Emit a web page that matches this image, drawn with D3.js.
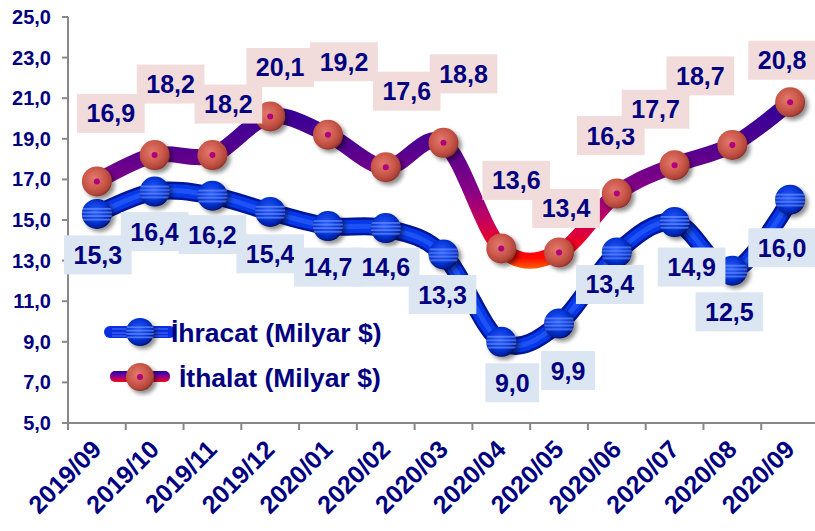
<!DOCTYPE html>
<html>
<head>
<meta charset="utf-8">
<script src="https://cdn.jsdelivr.net/npm/d3@7"></script>
<style>
  body { margin: 0; background: #fff; }
  svg { display: block; font-family: "Liberation Sans", Arial, sans-serif; font-weight: bold; }
</style>
</head>
<body>
<svg id="chart" width="815" height="531"></svg>
<script>
// months on the x axis
const months = ["2019/09", "2019/10", "2019/11", "2019/12", "2020/01", "2020/02", "2020/03",
                "2020/04", "2020/05", "2020/06", "2020/07", "2020/08", "2020/09"];
// İhracat (export), billion $
const ihracat = [15.3, 16.4, 16.2, 15.4, 14.7, 14.6, 13.3, 9.0, 9.9, 13.4, 14.9, 12.5, 16.0];
// İthalat (import), billion $
const ithalat = [16.9, 18.2, 18.2, 20.1, 19.2, 17.6, 18.8, 13.6, 13.4, 16.3, 17.7, 18.7, 20.8];
const yTicks = [5, 7, 9, 11, 13, 15, 17, 19, 21, 23, 25];
const seriesNames = ["İhracat (Milyar $)", "İthalat (Milyar $)"];

// label nudges in px from each marker (hand placed like the original)
const ihracatLabelShift = [[1,41],[0,40],[0,39],[0,42],[0,41],[0,39],[-1,40],[11,41],[9,47],[-7,32],[17,45],[-3,41],[-8,48]];
const ithalatLabelShift = [[14,-68],[16,-71],[16,-51],[10,-49],[16,-73],[21,-76],[20,-69],[15,-68],[7,-44],[-6,-58],[-19,-56],[-32,-69],[-8,-42]];

const navy = "#000080";
const fmt = v => d3.format(".1f")(v).replace(".", ",");

const svg = d3.select("#chart");
const plotLeft = 68, plotRight = 819, plotTop = 17, plotBottom = 423;

const x = d3.scalePoint().domain(months).range([plotLeft, plotRight]).padding(0.5);
const step = x.step();
const y = d3.scaleLinear().domain([5, 25]).range([plotBottom, plotTop]);

// ---------- defs
const defs = svg.append("defs");

const sh = defs.append("filter").attr("id", "shadow").attr("x", "-50%").attr("y", "-50%").attr("width", "200%").attr("height", "200%");
sh.append("feGaussianBlur").attr("in", "SourceAlpha").attr("stdDeviation", 2).attr("result", "b");
sh.append("feOffset").attr("in", "b").attr("dx", 3).attr("dy", 3).attr("result", "o");
sh.append("feComponentTransfer").attr("in", "o").attr("result", "o2")
  .append("feFuncA").attr("type", "linear").attr("slope", 0.45);
const shm = sh.append("feMerge");
shm.append("feMergeNode").attr("in", "o2");
shm.append("feMergeNode").attr("in", "SourceGraphic");

// import line colour runs from indigo (high) to orange (low)
const impGrad = defs.append("linearGradient").attr("id", "impGrad")
  .attr("gradientUnits", "userSpaceOnUse").attr("x1", 0).attr("x2", 0).attr("y1", 95).attr("y2", 272);
[[0, "#2a0098"], [0.3, "#55008f"], [0.55, "#8a0085"], [0.7, "#c20060"], [0.82, "#e8002c"], [0.92, "#ff0a00"], [1, "#ff7a00"]]
  .forEach(s => impGrad.append("stop").attr("offset", s[0]).attr("stop-color", s[1]));

const impBall = defs.append("radialGradient").attr("id", "impBall").attr("cx", "0.42").attr("cy", "0.4").attr("r", "0.62");
[[0, "#e27a6c"], [0.55, "#cc5a4c"], [0.85, "#b2463a"], [1, "#8a3028"]]
  .forEach(s => impBall.append("stop").attr("offset", s[0]).attr("stop-color", s[1]));

const expBall = defs.append("radialGradient").attr("id", "expBall").attr("cx", "0.45").attr("cy", "0.42").attr("r", "0.6");
[[0, "#2b5cff"], [0.6, "#0636d8"], [0.88, "#0320a0"], [1, "#000850"]]
  .forEach(s => expBall.append("stop").attr("offset", s[0]).attr("stop-color", s[1]));

const stripes = defs.append("pattern").attr("id", "stripes")
  .attr("patternContentUnits", "objectBoundingBox").attr("width", 1).attr("height", 1);
[0.3, 0.42, 0.54, 0.66].forEach(v =>
  stripes.append("rect").attr("x", 0).attr("y", v).attr("width", 1).attr("height", 0.06)
    .attr("fill", "#7aa0ff").attr("opacity", 0.6));

const legImp = defs.append("linearGradient").attr("id", "legImp").attr("x1", 0).attr("x2", 0).attr("y1", 0).attr("y2", 1);
[[0, "#1a00a8"], [0.5, "#8a0090"], [1, "#ff0010"]]
  .forEach(s => legImp.append("stop").attr("offset", s[0]).attr("stop-color", s[1]));

// ---------- axes
const gAxis = svg.append("g").attr("stroke", "#888").attr("stroke-width", 2);
gAxis.append("line").attr("x1", plotLeft).attr("x2", plotLeft).attr("y1", plotTop).attr("y2", plotBottom);
gAxis.append("line").attr("x1", plotLeft).attr("x2", 815).attr("y1", plotBottom).attr("y2", plotBottom);
gAxis.selectAll(".yt").data(yTicks).join("line")
  .attr("x1", plotLeft - 6).attr("x2", plotLeft).attr("y1", d => y(d)).attr("y2", d => y(d));
gAxis.selectAll(".xt").data(months).join("line")
  .attr("x1", d => x(d) - step / 2).attr("x2", d => x(d) - step / 2)
  .attr("y1", plotBottom).attr("y2", plotBottom + 7);

svg.append("g").selectAll("text").data(yTicks).join("text")
  .attr("x", 51).attr("y", d => y(d) + 7)
  .attr("text-anchor", "end").attr("font-size", 20).attr("fill", navy)
  .text(d => fmt(d));

svg.append("g").selectAll("text").data(months).join("text")
  .attr("transform", d => `translate(${x(d) + 6},${plotBottom + 28}) rotate(-45)`)
  .attr("text-anchor", "end").attr("font-size", 25).attr("fill", navy)
  .text(d => d);

// ---------- lines
const line = d3.line().x((d, i) => x(months[i])).y(d => y(d)).curve(d3.curveCardinal.tension(0));

const gExp = svg.append("g");
gExp.append("path").attr("d", line(ihracat)).attr("fill", "none").attr("stroke", "#00169a").attr("stroke-width", 18).attr("stroke-linecap", "round");
gExp.append("path").attr("d", line(ihracat)).attr("fill", "none").attr("stroke", "#0538e8").attr("stroke-width", 13).attr("stroke-linecap", "round");
gExp.append("path").attr("d", line(ihracat)).attr("fill", "none").attr("stroke", "#3468ff").attr("stroke-width", 5).attr("stroke-opacity", 0.55).attr("stroke-linecap", "round");

svg.append("path").attr("d", line(ithalat)).attr("fill", "none")
  .attr("stroke", "url(#impGrad)").attr("stroke-width", 16).attr("stroke-linecap", "round");

// ---------- markers
function expMarker(g, cx, cy, r) {
  const m = g.append("g").attr("filter", "url(#shadow)");
  m.append("circle").attr("cx", cx).attr("cy", cy).attr("r", r).attr("fill", "url(#expBall)");
  m.append("circle").attr("cx", cx).attr("cy", cy).attr("r", r).attr("fill", "url(#stripes)");
}
function impMarker(g, cx, cy, r) {
  const m = g.append("g").attr("filter", "url(#shadow)");
  m.append("circle").attr("cx", cx).attr("cy", cy).attr("r", r).attr("fill", "url(#impBall)");
  m.append("circle").attr("cx", cx).attr("cy", cy).attr("r", 3).attr("fill", "#b0007c");
}

const gMark = svg.append("g");
ihracat.forEach((v, i) => expMarker(gMark, x(months[i]), y(v), 15));
ithalat.forEach((v, i) => impMarker(gMark, x(months[i]), y(v), 15));

// ---------- data labels
function labels(values, shifts, fill) {
  const g = svg.append("g");
  values.forEach((v, i) => {
    const cx = x(months[i]) + shifts[i][0], cy = y(v) + shifts[i][1];
    const box = g.append("rect").attr("fill", fill);
    const t = g.append("text").attr("x", cx).attr("y", cy + 9)
      .attr("text-anchor", "middle").attr("font-size", 25).attr("fill", navy).text(fmt(v));
    const w = t.node().getComputedTextLength() + 19;
    box.attr("x", cx - w / 2).attr("y", cy - 19.5).attr("width", w).attr("height", 39);
  });
}
labels(ihracat, ihracatLabelShift, "#dce6f2");
labels(ithalat, ithalatLabelShift, "#f2dcdb");

// ---------- legend
const lg = svg.append("g");
lg.append("line").attr("x1", 110).attr("x2", 170).attr("y1", 332).attr("y2", 332)
  .attr("stroke", "#0a2ee0").attr("stroke-width", 12).attr("stroke-linecap", "round");
[-3, 1, 4].forEach(o => lg.append("line").attr("x1", 112).attr("x2", 168).attr("y1", 332 + o).attr("y2", 332 + o)
  .attr("stroke", "#6a90ff").attr("stroke-width", 1).attr("opacity", 0.7));
expMarker(lg, 140, 332, 14);
lg.append("text").attr("x", 171).attr("y", 342).attr("font-size", 26.5).attr("fill", navy).text(seriesNames[0]);

lg.append("rect").attr("x", 110).attr("y", 371).attr("width", 60).attr("height", 11).attr("rx", 5)
  .attr("fill", "url(#legImp)");
impMarker(lg, 140, 377, 14);
lg.append("text").attr("x", 179).attr("y", 387).attr("font-size", 26.5).attr("fill", navy).text(seriesNames[1]);
</script>
</body>
</html>
